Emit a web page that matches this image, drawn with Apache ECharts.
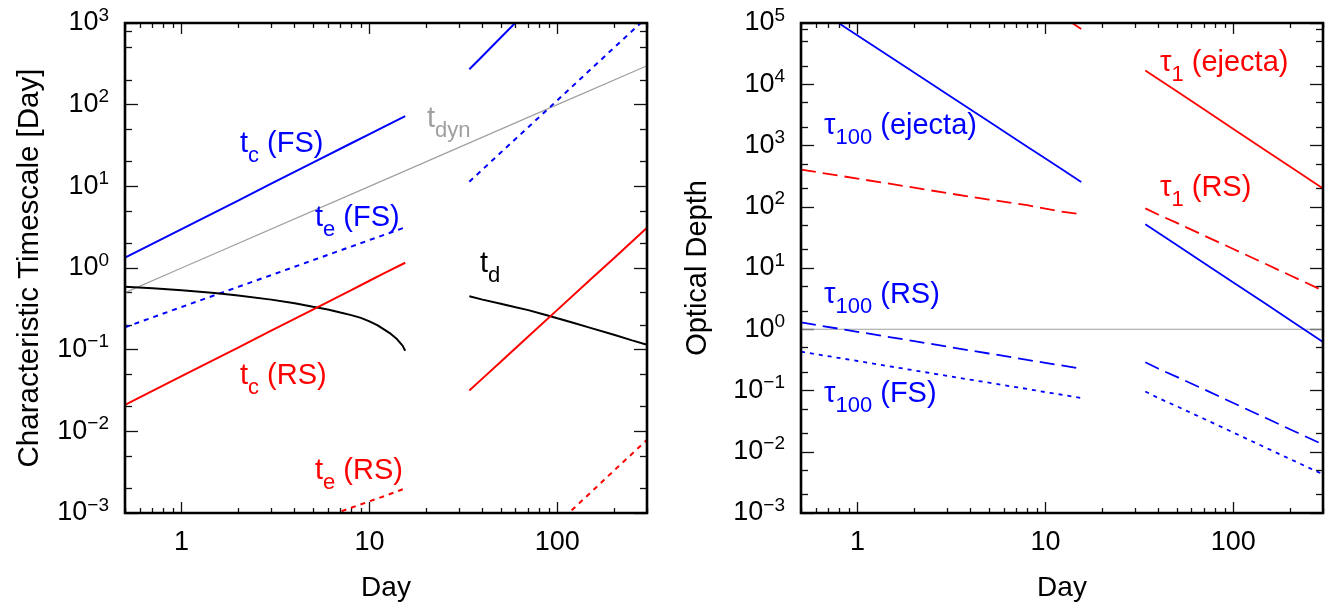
<!DOCTYPE html>
<html><head><meta charset="utf-8">
<script src="https://cdn.jsdelivr.net/npm/echarts@6/dist/echarts.min.js"></script>
<style>html,body{margin:0;padding:0;background:#fff}#c{width:1340px;height:610px}</style>
</head><body><div id="c"></div><script>
const FONT = '"Liberation Sans", Arial, Helvetica, sans-serif';

// ---------- Left panel: characteristic timescales ----------
const dayEarly = [0.5, 1, 2, 3, 5, 8, 10, 12, 15.5];
const dayLate  = [34, 40, 50, 70, 100, 150, 200, 300];
const dayDyn   = [0.5, 1, 10, 100, 300];
const tDyn     = [0.5, 1, 10, 100, 300];

const tcFSEarly = [1.34, 3.0, 6.7, 10.8, 19.5, 33.7, 43.6, 54, 72.6];
const tcFSLateDay = [34, 40, 50, 60, 70];
const tcFSLate    = [271, 395, 664, 1015, 1452];
const teFSEarly = [0.188, 0.333, 0.587, 0.818, 1.245, 1.83, 2.2, 2.55, 3.15];
const teFSLate  = [11.4, 16.1, 25.9, 53, 113, 269, 497, 1178];
const tdEarlyDay = [0.5, 0.7, 1, 1.5, 2, 3, 4, 5, 6, 7, 8, 9, 10, 11, 12, 13, 14, 15, 15.5];
const tdEarly    = [0.59, 0.565, 0.535, 0.495, 0.46, 0.41, 0.37, 0.335, 0.31, 0.285, 0.265, 0.245, 0.222, 0.2, 0.176, 0.156, 0.135, 0.112, 0.097];
const tdLateDay  = [34, 40, 50, 60, 70, 85, 100, 120, 150, 200, 250, 300];
const tdLate     = [0.45, 0.41, 0.365, 0.33, 0.305, 0.27, 0.242, 0.215, 0.185, 0.152, 0.13, 0.115];
const tcRSEarly = [0.0211, 0.0474, 0.106, 0.171, 0.31, 0.537, 0.698, 0.863, 1.16];
const tcRSLate  = [0.0316, 0.0445, 0.0711, 0.145, 0.307, 0.723, 1.32, 3.12];
const teRSEarly = [1.19e-4, 2.1e-4, 3.7e-4, 5.3e-4, 7.85e-4, 1.16e-3, 1.39e-3, 1.61e-3, 2.0e-3];
const teRSLate  = [7.3e-5, 1.0e-4, 1.67e-4, 3.4e-4, 7.4e-4, 1.77e-3, 3.3e-3, 7.87e-3];

// ---------- Right panel: optical depth ----------
const dayEarlyR = [0.5, 1, 2, 3, 5, 8, 10, 12, 15.5];
const dayLateR  = [34, 40, 50, 70, 100, 150, 200, 300];
const dayUnity  = [0.5, 300];
const unity     = [1, 1];
const tau100EjEarly = [2.52e5, 62500, 15500, 6870, 2460, 957, 611, 424, 254];
const tau100EjLate  = [51.9, 37.2, 23.7, 12.0, 5.8, 2.55, 1.42, 0.62];
const tau1EjEarly   = [7.9e7, 1.97e7, 4.9e6, 2.16e6, 7.75e5, 3.0e5, 1.92e5, 1.34e5, 8.0e4];
const tau1EjLate    = [16800, 12100, 7670, 3860, 1860, 815, 453, 198];
const tau1RSEarly   = [405, 288, 205, 167, 131, 106, 93, 84, 75];
const tau1RSLate    = [94, 74, 54.5, 33.8, 20.4, 11.5, 7.6, 4.28];
const tau100RSEarly = [1.29, 0.908, 0.64, 0.52, 0.402, 0.316, 0.283, 0.258, 0.226];
const tau100RSLate  = [0.289, 0.226, 0.167, 0.104, 0.0625, 0.0352, 0.0233, 0.0131];
const tau100FSEarly = [0.43, 0.303, 0.213, 0.173, 0.134, 0.106, 0.094, 0.086, 0.0753];
const tau100FSLate  = [0.0962, 0.075, 0.0553, 0.0343, 0.0206, 0.0115, 0.00762, 0.00428];

// tick labels
const xLabelVals = [1, 10, 100];
const yLabelValsL = [1e-3, 1e-2, 1e-1, 1, 10, 100, 1000];
const yLabelValsR = [1e-3, 1e-2, 1e-1, 1, 10, 100, 1000, 1e4, 1e5];

const BLUE = '#0000ff', RED = '#ff0000', GRAY = '#a0a0a0', BLACK = '#000000';

function pts(xs, ys) { return xs.map((x, i) => [x, ys[i]]); }

// tick positions
const xMajor = [1, 10, 100];
const xMinor = [];
[0.1, 1, 10, 100].forEach(d => { for (let k = 2; k <= 9; k++) { const v = +(k * d).toPrecision(3); if (v >= 0.5 && v <= 300) xMinor.push(v); } });
function yMinorTicks(lo, hi) {
  const r = [];
  for (let e = lo; e < hi; e++) { r.push(2 * Math.pow(10, e)); r.push(5 * Math.pow(10, e)); }
  r.push(8 * Math.pow(10, hi - 1));
  return r;
}

function supFmt(v) {
  const e = Math.round(Math.log10(v));
  return '{b|10}{s|' + (e < 0 ? '\u2212' + (-e) : String(e)) + '}';
}
const yRich = {
  b: { fontSize: 27, fontFamily: FONT, color: '#000', lineHeight: 34 },
  s: { fontSize: 19, fontFamily: FONT, color: '#000', lineHeight: 19, verticalAlign: 'top' }
};

function makeXAxes(gi) {
  const base = { type: 'log', logBase: 10, min: 0.5, max: 300, gridIndex: gi,
    axisLine: { show: false }, splitLine: { show: false }, minorTick: { show: false } };
  const tick = (vals, len) => ({ show: true, inside: true, length: len, customValues: vals,
    lineStyle: { color: '#111', width: 1.3 } });
  return [
    Object.assign({}, base, { position: 'bottom', axisTick: tick(xMajor, 11),
      axisLabel: { show: true, customValues: xLabelVals, formatter: v => String(Math.round(v)),
        fontSize: 27, fontFamily: FONT, color: '#000', margin: 16 },
      name: 'Day', nameLocation: 'middle', nameGap: 61,
      nameTextStyle: { fontSize: 28, fontFamily: FONT, color: '#000' } }),
    Object.assign({}, base, { position: 'bottom', axisTick: tick(xMinor, 5), axisLabel: { show: false } }),
    Object.assign({}, base, { position: 'top', axisTick: tick(xMajor, 11), axisLabel: { show: false } }),
    Object.assign({}, base, { position: 'top', axisTick: tick(xMinor, 5), axisLabel: { show: false } })
  ];
}
function makeYAxes(gi, lo, hi, labelVals, name, gap, nameSize) {
  const major = [];
  for (let e = lo; e <= hi; e++) major.push(Math.pow(10, e));
  const minor = yMinorTicks(lo, hi);
  const base = { type: 'log', logBase: 10, min: Math.pow(10, lo), max: Math.pow(10, hi), gridIndex: gi,
    axisLine: { show: false }, splitLine: { show: false }, minorTick: { show: false } };
  const tick = (vals, len) => ({ show: true, inside: true, length: len, customValues: vals,
    lineStyle: { color: '#111', width: 1.3 } });
  return [
    Object.assign({}, base, { position: 'left', axisTick: tick(major, 13),
      axisLabel: { show: true, customValues: labelVals, formatter: supFmt, rich: yRich, margin: 16 },
      name: name, nameLocation: 'middle', nameGap: gap, nameRotate: 90,
      nameTextStyle: { fontSize: nameSize, fontFamily: FONT, color: '#000' } }),
    Object.assign({}, base, { position: 'left', axisTick: tick(minor, 7), axisLabel: { show: false } }),
    Object.assign({}, base, { position: 'right', axisTick: tick(major, 13), axisLabel: { show: false } }),
    Object.assign({}, base, { position: 'right', axisTick: tick(minor, 7), axisLabel: { show: false } })
  ];
}

function line(gi, data, color, width, type) {
  return { type: 'line', xAxisIndex: gi * 4, yAxisIndex: gi * 4, data: data,
    showSymbol: false, symbol: 'none', clip: true, silent: true, animation: false,
    lineStyle: { color: color, width: width, type: type || 'solid' }, z: 3 };
}

const DOT = [5, 5], DOTR = [4, 5], DASH = [15, 7];
const series = [
  line(0, pts(dayDyn, tDyn), GRAY, 1.2),
  line(0, pts(dayEarly, tcFSEarly), BLUE, 2),
  line(0, pts(tcFSLateDay, tcFSLate), BLUE, 2),
  line(0, pts(dayEarly, teFSEarly), BLUE, 2, DOT),
  line(0, pts(dayLate, teFSLate), BLUE, 2, DOT),
  line(0, pts(tdEarlyDay, tdEarly), BLACK, 2),
  line(0, pts(tdLateDay, tdLate), BLACK, 2),
  line(0, pts(dayEarly, tcRSEarly), RED, 2),
  line(0, pts(dayLate, tcRSLate), RED, 2),
  line(0, pts(dayEarly, teRSEarly), RED, 2, DOT),
  line(0, pts(dayLate, teRSLate), RED, 2, DOT),

  line(1, pts(dayUnity, unity), GRAY, 1.2),
  line(1, pts(dayEarlyR, tau100EjEarly), BLUE, 1.8),
  line(1, pts(dayLateR, tau100EjLate), BLUE, 1.8),
  line(1, pts(dayEarlyR, tau1EjEarly), RED, 1.8),
  line(1, pts(dayLateR, tau1EjLate), RED, 1.8),
  line(1, pts(dayEarlyR, tau1RSEarly), RED, 1.8, DASH),
  line(1, pts(dayLateR, tau1RSLate), RED, 1.8, DASH),
  line(1, pts(dayEarlyR, tau100RSEarly), BLUE, 1.8, DASH),
  line(1, pts(dayLateR, tau100RSLate), BLUE, 1.8, DASH),
  line(1, pts(dayEarlyR, tau100FSEarly), BLUE, 1.8, DOTR),
  line(1, pts(dayLateR, tau100FSLate), BLUE, 1.8, DOTR)
];

// in-plot labels: main symbol, subscript, rest (baseline-positioned)
const mctx = document.createElement('canvas').getContext('2d');
function tw(text, size) { mctx.font = size + 'px ' + FONT; return mctx.measureText(text).width; }
const MAIN = 29, SUB = 22;
function lab(x, B, color, main, sub, rest) {
  const els = [];
  const mk = (t, xx, yy, size) => ({ type: 'text', x: xx, y: yy, z: 10, silent: true,
    style: { text: t, fontSize: size, fontFamily: FONT, fill: color, align: 'left', verticalAlign: 'middle' } });
  els.push(mk(main, x, B - 0.3 * MAIN, MAIN));
  const x2 = x + tw(main, MAIN);
  const Bs = B + 9.5;
  els.push(mk(sub, x2, Bs - 0.3 * SUB, SUB));
  if (rest) els.push(mk(rest, x2 + tw(sub, SUB), B - 0.3 * MAIN, MAIN));
  return els;
}
const graphics = [].concat(
  lab(240, 153, BLUE, 't', 'c', ' (FS)'),
  lab(427, 128, GRAY, 't', 'dyn', ''),
  lab(315, 227, BLUE, 't', 'e', ' (FS)'),
  lab(480, 273, BLACK, 't', 'd', ''),
  lab(240, 385, RED, 't', 'c', ' (RS)'),
  lab(315, 480, RED, 't', 'e', ' (RS)'),
  lab(824, 135, BLUE, '\u03c4', '100', ' (ejecta)'),
  lab(1160, 72, RED, '\u03c4', '1', ' (ejecta)'),
  lab(1160, 197, RED, '\u03c4', '1', ' (RS)'),
  lab(824, 304, BLUE, '\u03c4', '100', ' (RS)'),
  lab(824, 403, BLUE, '\u03c4', '100', ' (FS)')
);

const chart = echarts.init(document.getElementById('c'), null, { renderer: 'canvas' });
chart.setOption({
  animation: false,
  backgroundColor: '#ffffff',
  grid: [
    { left: 125, top: 23, width: 522, height: 490, show: true, borderColor: '#000', borderWidth: 2.6, backgroundColor: 'transparent', z: 5 },
    { left: 801, top: 23, width: 522, height: 490, show: true, borderColor: '#000', borderWidth: 2.6, backgroundColor: 'transparent', z: 5 }
  ],
  xAxis: makeXAxes(0).concat(makeXAxes(1)),
  yAxis: makeYAxes(0, -3, 3, yLabelValsL, 'Characteristic Timescale [Day]', 80, 29.5)
    .concat(makeYAxes(1, -3, 5, yLabelValsR, 'Optical Depth', 89, 29)),
  series: series,
  graphic: graphics
});
</script></body></html>
